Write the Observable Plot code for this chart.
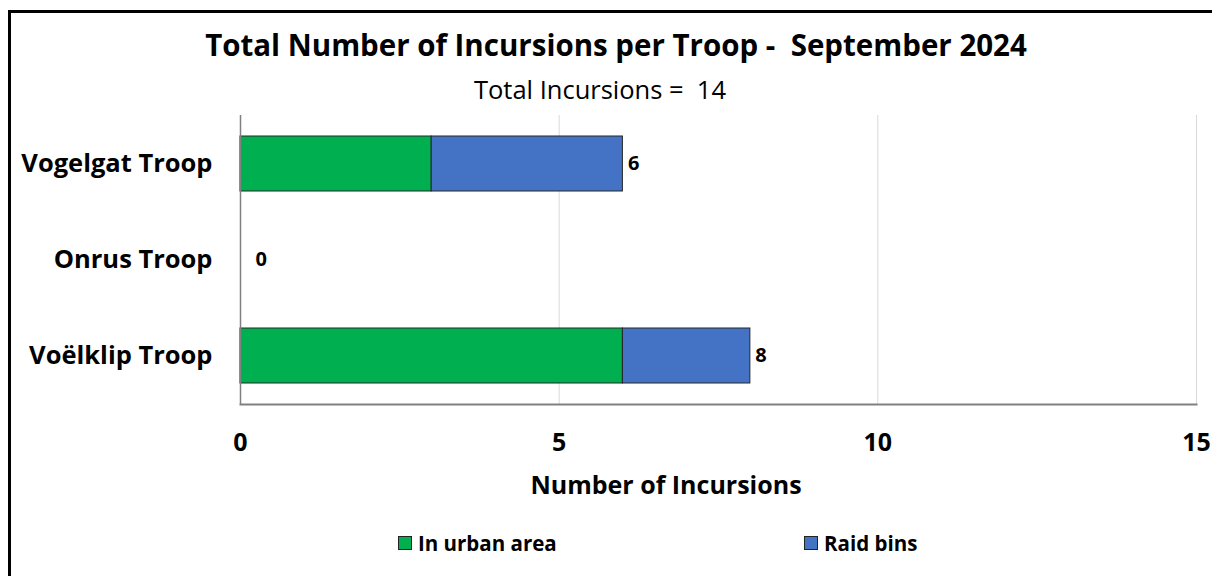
<!DOCTYPE html>
<html>
<head>
<meta charset="utf-8">
<script src="https://cdn.jsdelivr.net/npm/d3@7"></script>
<script src="https://cdn.jsdelivr.net/npm/@observablehq/plot@0.6"></script>
<style>
  html, body { margin: 0; padding: 0; background: #fff; }
  body { width: 1212px; height: 576px; position: relative; overflow: hidden; font-family: "Open Sans", Lato, sans-serif; color: #000; }
  #frame { position: absolute; left: 8px; top: 10px; width: 1400px; height: 800px; border: 3px solid #000; box-sizing: border-box; z-index: 10; pointer-events: none; }
  .abs { position: absolute; white-space: nowrap; }
  #title { left: 0; width: 1232px; top: 25px; text-align: center; font-size: 29.5px; font-weight: 700; line-height: 40px; }
  #subtitle { left: 0; width: 1200px; top: 72px; text-align: center; font-size: 25.5px; font-weight: 400; line-height: 34px; }
  #xlabel { left: 0; width: 1332px; top: 467px; text-align: center; font-size: 25px; font-weight: 700; line-height: 34px; }
  #chart { position: absolute; left: 0; top: 100px; }
  .leg { position: absolute; top: 529px; font-size: 20.5px; font-weight: 700; display: flex; align-items: center; line-height: 28px; }
  .sw { width: 12px; height: 12px; border: 1px solid #222; margin-right: 6px; }
</style>
</head>
<body>
<div id="frame"></div>
<div id="title" class="abs">Total Number of Incursions per Troop -&nbsp; September 2024</div>
<div id="subtitle" class="abs">Total Incursions =&nbsp; 14</div>
<div id="chart"></div>
<div id="xlabel" class="abs">Number of Incursions</div>
<div id="legend"></div>
<script>
const troops = ["Vogelgat Troop", "Onrus Troop", "Voëlklip Troop"];
const urban = [3, 0, 6];
const raid = [3, 0, 2];
const seriesNames = ["In urban area", "Raid bins"];
const seriesColors = ["#00B050", "#4472C4"];
const xTicks = [0, 5, 10, 15];

const rows = [];
troops.forEach((t, i) => {
  rows.push({troop: t, series: seriesNames[0], value: urban[i]});
  rows.push({troop: t, series: seriesNames[1], value: raid[i]});
});
const totals = troops.map((t, i) => ({troop: t, total: urban[i] + raid[i]}));

const plot = Plot.plot({
  width: 1212,
  height: 380,
  marginLeft: 240,
  marginRight: 16,
  marginTop: 15,
  marginBottom: 76,
  x: {domain: [0, 15], ticks: xTicks},
  y: {domain: troops, paddingInner: 0.43, paddingOuter: 0.215},
  color: {domain: seriesNames, range: seriesColors},
  style: {fontFamily: "'Open Sans', Lato, sans-serif", background: "transparent"},
  marks: [
    Plot.gridX([5, 10, 15], {stroke: "#d9d9d9", strokeOpacity: 1, strokeWidth: 1}),
    Plot.barX(rows, Plot.stackX({y: "troop", x: "value", fill: "series", stroke: "#262626", strokeWidth: 1, order: seriesNames})),
    Plot.ruleX([0], {stroke: "#808080", strokeWidth: 1.5}),
    Plot.frame({anchor: "bottom", stroke: "#808080", strokeWidth: 2}),
    Plot.text(totals.filter(d => d.total > 0), {x: "total", y: "troop", text: d => String(d.total), textAnchor: "start", dx: 5, fontSize: 20, fontWeight: 700, fill: "#000"}),
    Plot.text(totals.filter(d => d.total === 0), {x: "total", y: "troop", text: d => String(d.total), textAnchor: "start", dx: 15, fontSize: 20, fontWeight: 700, fill: "#000"}),
    Plot.axisX({ticks: xTicks, tickSize: 0, tickPadding: 29, fontSize: 25, fontWeight: 700, label: null, color: "#000"}),
    Plot.axisY({tickSize: 0, tickPadding: 28, fontSize: 25.5, fontWeight: 700, label: null, color: "#000"})
  ]
});
document.getElementById("chart").appendChild(plot);

const legendLeft = [398, 804];
const leg = document.getElementById("legend");
seriesNames.forEach((s, i) => {
  const d = document.createElement("div");
  d.className = "leg";
  d.style.left = legendLeft[i] + "px";
  d.innerHTML = `<span class="sw" style="background:${seriesColors[i]}"></span><span>${s}</span>`;
  leg.appendChild(d);
});
</script>
</body>
</html>
